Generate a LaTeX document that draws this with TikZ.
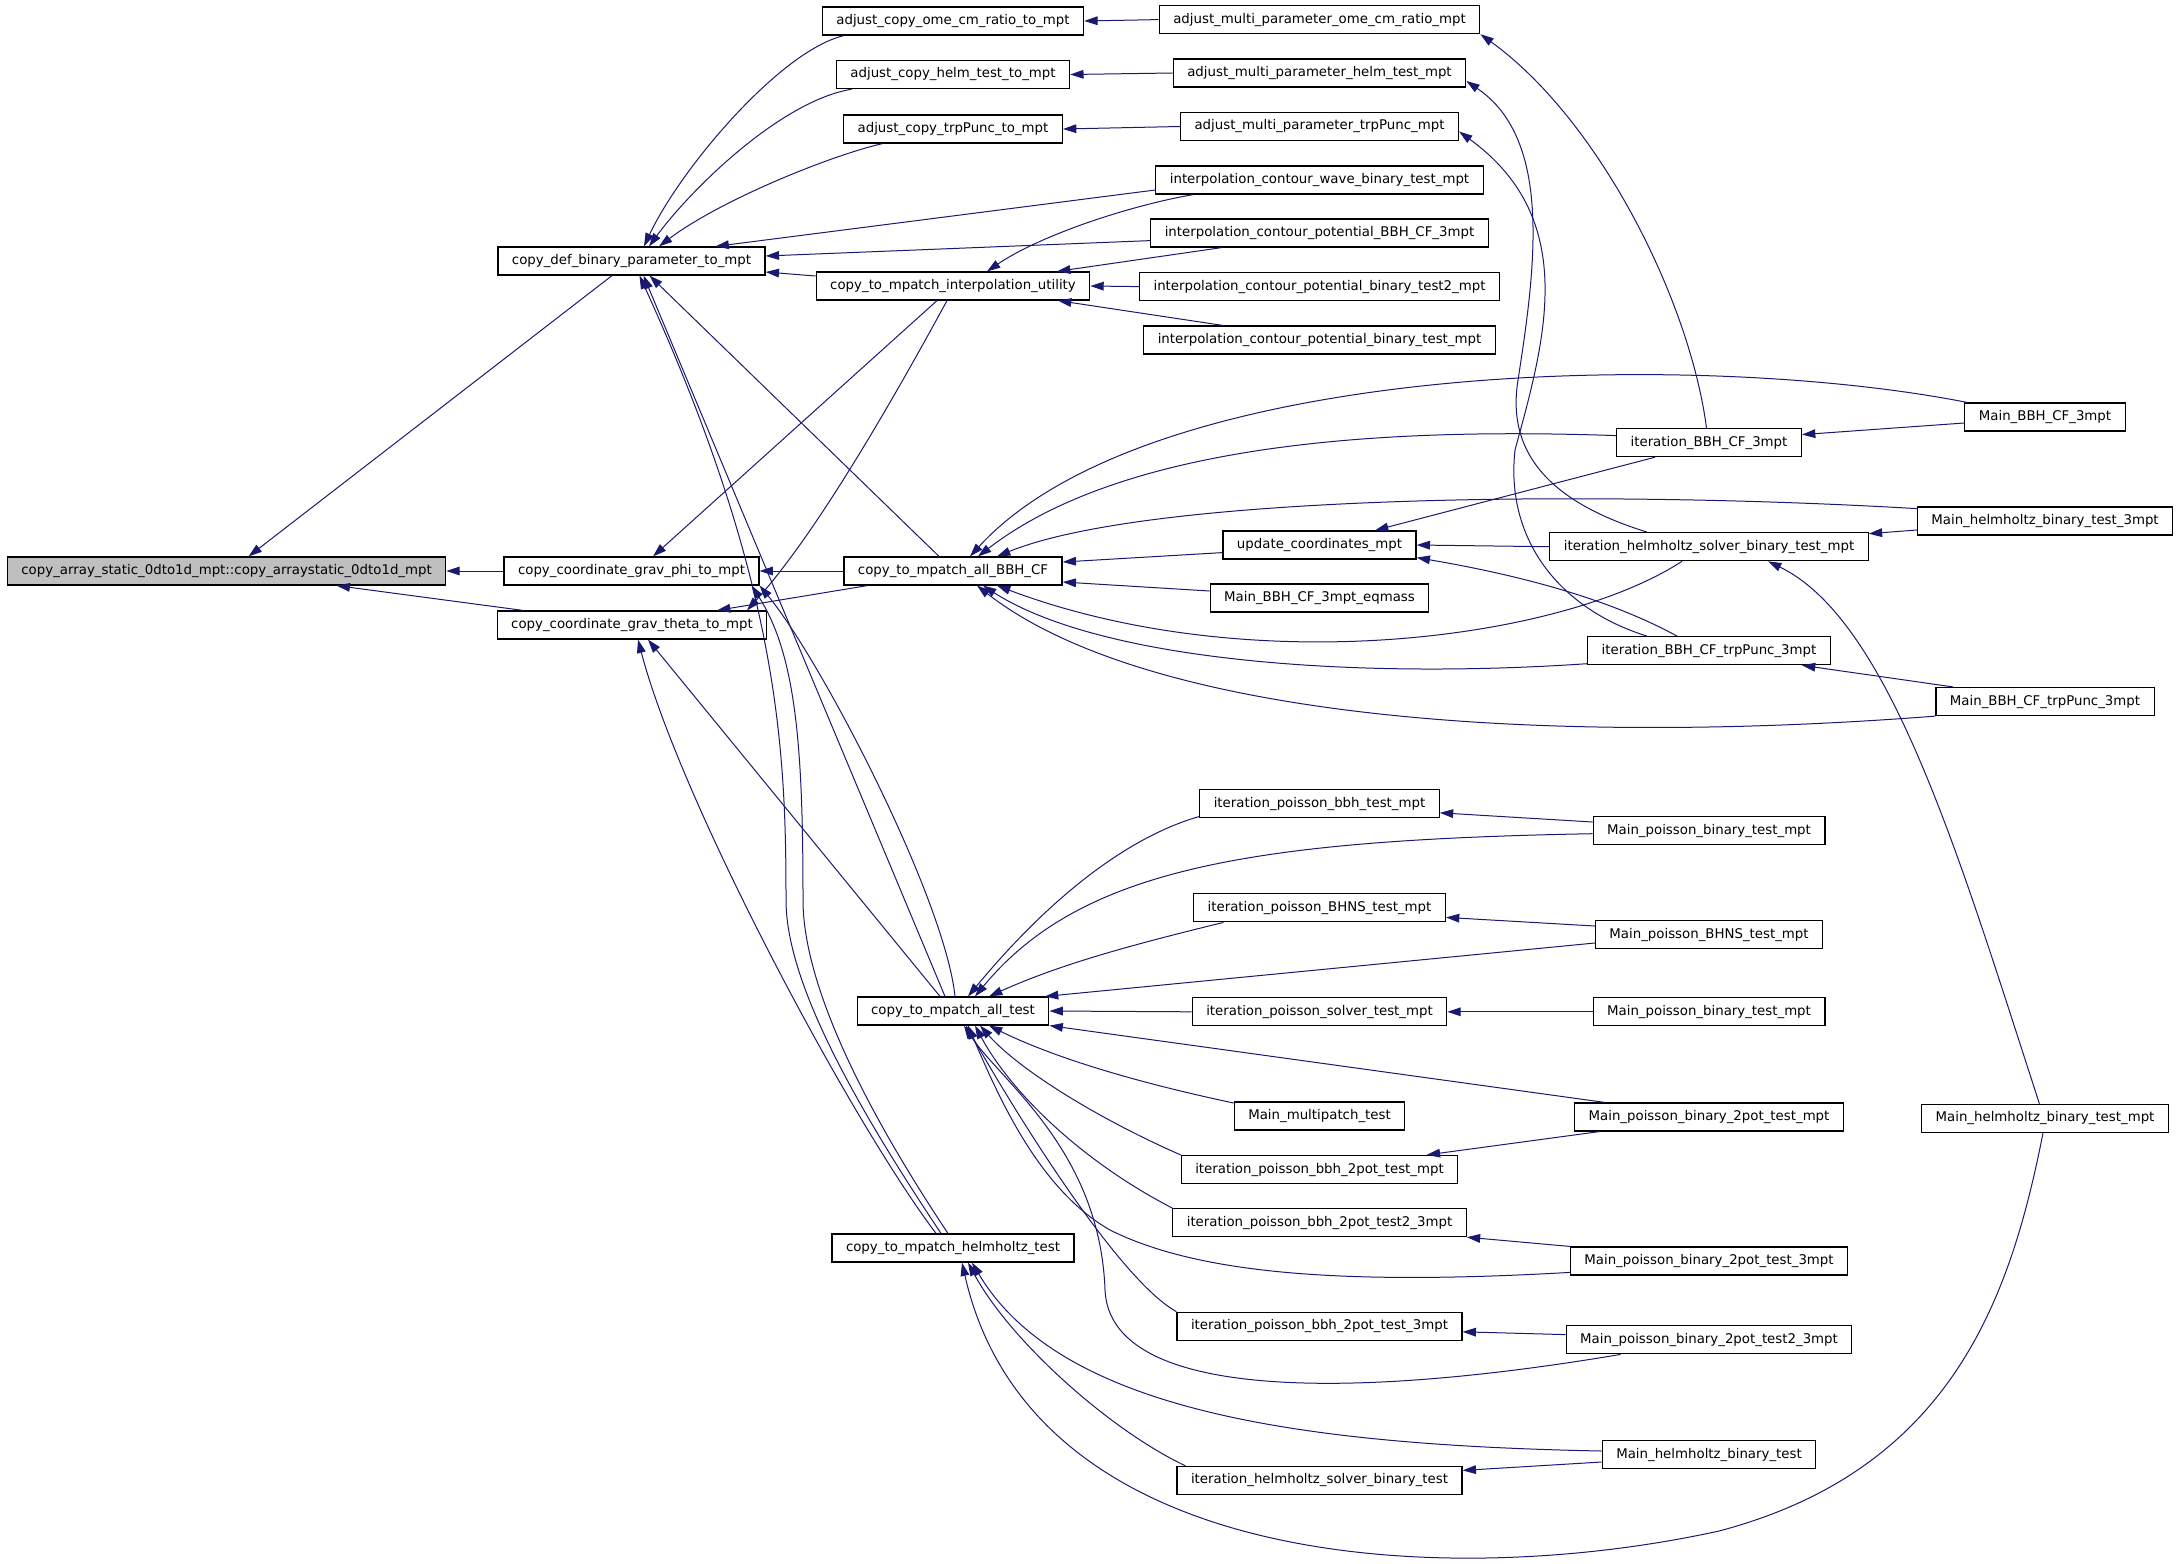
\documentclass[tikz,border=0pt]{standalone}
\usepackage{fontspec}
\setmainfont{DejaVu Sans}
\usepackage{xcolor}
\usetikzlibrary{arrows.meta,calc}
\definecolor{edgeblue}{HTML}{191970}

\begin{document}
\begin{tikzpicture}[x=0.75pt,y=-0.75pt,
 fn/.style={draw=black,line width=0.9pt,fill=white,minimum height=21pt,inner xsep=10.5pt,inner ysep=0pt,font=\fontsize{10}{12}\selectfont},
 rootfn/.style={fn,fill=black!25},
 edge/.style={edgeblue,line width=0.75pt,-{Triangle[length=10pt,width=6.5pt]}}]

\useasboundingbox (0,0) rectangle (2179,1563);
\def\ca{631.5} \def\cb{953} \def\cc{1319.5} \def\cd{1709} \def\ce{2045}

%col 0 and 1
\node[rootfn] (root) at (226.6,571) {copy\_array\_static\_0dto1d\_mpt::copy\_arraystatic\_0dto1d\_mpt};
\node[fn] (defbin) at (\ca,261) {copy\_def\_binary\_parameter\_to\_mpt};
\node[fn] (gphi) at (\ca,571) {copy\_coordinate\_grav\_phi\_to\_mpt};
\node[fn] (gtheta) at (632,625) {copy\_coordinate\_grav\_theta\_to\_mpt};

%col 2
\node[fn] (adjome) at (\cb,21) {adjust\_copy\_ome\_cm\_ratio\_to\_mpt};
\node[fn] (adjhelm) at (\cb,74.5) {adjust\_copy\_helm\_test\_to\_mpt};
\node[fn] (adjtrp) at (\cb,129) {adjust\_copy\_trpPunc\_to\_mpt};
\node[fn] (interp) at (\cb,286) {copy\_to\_mpatch\_interpolation\_utility};
\node[fn] (allbbh) at (\cb,571) {copy\_to\_mpatch\_all\_BBH\_CF};
\node[fn] (alltest) at (\cb,1011) {copy\_to\_mpatch\_all\_test};
\node[fn] (helmtest) at (\cb,1248) {copy\_to\_mpatch\_helmholtz\_test};

%col 3
\node[fn] (mome) at (\cc,19.6) {adjust\_multi\_parameter\_ome\_cm\_ratio\_mpt};
\node[fn] (mhelm) at (\cc,73) {adjust\_multi\_parameter\_helm\_test\_mpt};
\node[fn] (mtrp) at (\cc,126.5) {adjust\_multi\_parameter\_trpPunc\_mpt};
\node[fn] (icwave) at (\cc,180) {interpolation\_contour\_wave\_binary\_test\_mpt};
\node[fn] (icbbh) at (\cc,233) {interpolation\_contour\_potential\_BBH\_CF\_3mpt};
\node[fn] (ictest2) at (\cc,286.6) {interpolation\_contour\_potential\_binary\_test2\_mpt};
\node[fn] (ictest) at (\cc,340) {interpolation\_contour\_potential\_binary\_test\_mpt};
\node[fn] (upd) at (\cc,545) {update\_coordinates\_mpt};
\node[fn] (eqmass) at (\cc,598) {Main\_BBH\_CF\_3mpt\_eqmass};
\node[fn] (ipbbh) at (\cc,803.5) {iteration\_poisson\_bbh\_test\_mpt};
\node[fn] (ipbhns) at (\cc,907.8) {iteration\_poisson\_BHNS\_test\_mpt};
\node[fn] (ipsolver) at (\cc,1011.8) {iteration\_poisson\_solver\_test\_mpt};
\node[fn] (mmulti) at (\cc,1116) {Main\_multipatch\_test};
\node[fn] (ip2pot) at (\cc,1169.5) {iteration\_poisson\_bbh\_2pot\_test\_mpt};
\node[fn] (ip2pot23) at (\cc,1222.6) {iteration\_poisson\_bbh\_2pot\_test2\_3mpt};
\node[fn] (ip2pot3) at (\cc,1326.3) {iteration\_poisson\_bbh\_2pot\_test\_3mpt};
\node[fn] (ihelm) at (\cc,1480.4) {iteration\_helmholtz\_solver\_binary\_test};

%col 4
\node[fn] (ibbh) at (\cd,442.6) {iteration\_BBH\_CF\_3mpt};
\node[fn] (ihelmmpt) at (\cd,546.7) {iteration\_helmholtz\_solver\_binary\_test\_mpt};
\node[fn] (itrp) at (\cd,650.7) {iteration\_BBH\_CF\_trpPunc\_3mpt};
\node[fn] (mpbin) at (\cd,830.7) {Main\_poisson\_binary\_test\_mpt};
\node[fn] (mpbhns) at (\cd,934.7) {Main\_poisson\_BHNS\_test\_mpt};
\node[fn] (mpbinb) at (\cd,1011.8) {Main\_poisson\_binary\_test\_mpt};
\node[fn] (mp2pot) at (\cd,1116.9) {Main\_poisson\_binary\_2pot\_test\_mpt};
\node[fn] (mp2pot3) at (\cd,1261) {Main\_poisson\_binary\_2pot\_test\_3mpt};
\node[fn] (mp2pot23) at (\cd,1339.8) {Main\_poisson\_binary\_2pot\_test2\_3mpt};
\node[fn] (mhelmb) at (\cd,1454.5) {Main\_helmholtz\_binary\_test};

%col 5
\node[fn] (mbbh) at (\ce,417) {Main\_BBH\_CF\_3mpt};
\node[fn] (mhelm3) at (\ce,521) {Main\_helmholtz\_binary\_test\_3mpt};
\node[fn] (mtrpp) at (\ce,701.5) {Main\_BBH\_CF\_trpPunc\_3mpt};
\node[fn] (mhelmmpt) at (\ce,1118.3) {Main\_helmholtz\_binary\_test\_mpt};

%to root
\draw[edge] ($(defbin.south)+(-19.5,0)$) -- ($(root.north)+(22,0)$);
\draw[edge] (gphi.west) -- (root.east);
\draw[edge] ($(gtheta.north)+(-109,0)$) -- ($(root.south)+(110,0)$);

%to defbin
\draw[edge] ($(adjome.south)+(-109,0)$) .. controls +(-64,15) and +(36,-77) .. ($(defbin.north)+(12.5,0)$);
\draw[edge] ($(adjhelm.south)+(-101,0)$) .. controls +(-72,12) and +(41,-56) .. ($(defbin.north)+(17.5,0)$);
\draw[edge] ($(adjtrp.south)+(-70.5,0)$) .. controls +(-52.5,12) and +(61,-46) .. ($(defbin.north)+(27.5,0)$);
\draw[edge] ($(icwave.west)+(0,10)$) -- ($(defbin.north)+(84,0)$);
\draw[edge] ($(icbbh.west)+(0,7.6)$) -- ($(defbin.east)+(0,-5)$);
\draw[edge] ($(interp.west)+(0,-10)$) -- ($(defbin.east)+(0,11)$);
\draw[edge] ($(allbbh.north)+(-14,0)$) -- ($(defbin.south)+(18,0)$);
\draw[edge] ($(alltest.north)+(-8,0)$) -- ($(defbin.south)+(12,0)$);
\draw[edge] ($(helmtest.north)+(-12,0)$) .. controls +(-90,-135) and +(0,80) .. (786,900)
  .. controls +(0,-150) and +(140,307) .. ($(defbin.south)+(8,0)$);

%to gphi
\draw[edge] (allbbh.west) -- (gphi.east);
\draw[edge] ($(interp.south)+(-16,0)$) -- ($(gphi.north)+(21.5,0)$);
\draw[edge] ($(alltest.north)+(2,0)$) .. controls +(-10,-97) and +(62,75) .. (gphi.south east);
\draw[edge] ($(helmtest.north)+(-5,0)$) .. controls +(-90,-135) and +(0,80) .. (803,900)
  .. controls +(0,-150) and +(45,70) .. ($(gphi.south east)+(-8,0)$);

%to gtheta
\draw[edge] ($(interp.south)+(-6,0)$) .. controls +(-99,182) and +(45,-50) .. ($(gtheta.north)+(115,0)$);
\draw[edge] ($(allbbh.south west)+(24,0)$) -- ($(gtheta.north)+(85,0)$);
\draw[edge] ($(alltest.north)+(-13,0)$) -- ($(gtheta.south)+(16,0)$);
\draw[edge] ($(helmtest.north)+(-17,0)$) .. controls +(-86,-114) and +(42,161) .. ($(gtheta.south)+(6,0)$);

%col 3 to col 2
\draw[edge] (mome.west) -- (adjome.east);
\draw[edge] (mhelm.west) -- (adjhelm.east);
\draw[edge] (mtrp.west) -- (adjtrp.east);
\draw[edge] (ictest2.west) -- (interp.east);
\draw[edge] ($(icwave.south west)+(38,0)$) .. controls +(-64,11) and +(53,-36) .. ($(interp.north)+(34,0)$);
\draw[edge] ($(icbbh.south west)+(71.5,0)$) -- ($(interp.north)+(104,0)$);
\draw[edge] ($(ictest.north west)+(79.5,0)$) -- ($(interp.south)+(105,0)$);

%col 4 to col 3 top
\draw[edge] ($(ibbh.north)+(-2.5,0)$) .. controls +(-17,-129) and +(118,85) .. (mome.south east);
\draw[edge] ($(ihelmmpt.north)+(-62,0)$) .. controls +(-87,-27) and +(-13,80) .. (1518,380)
  .. controls +(17,-110) and +(87,59) .. ($(mhelm.east)+(0,8)$);
\draw[edge] ($(itrp.north)+(-62,0)$) .. controls +(-87,-27) and +(-10,90) .. (1515,450)
  .. controls +(30,-110) and +(121,88) .. ($(mtrp.east)+(0,5)$);

%col 5 to col 4
\draw[edge] ($(mbbh.west)+(0,6)$) -- ($(ibbh.east)+(0,-8)$);
\draw[edge] ($(mhelm3.west)+(0,9)$) -- ($(ihelmmpt.east)+(0,-13)$);
\draw[edge] ($(mtrpp.north west)+(17.5,0)$) -- ($(itrp.south east)+(-29,0)$);
\draw[edge] ($(mhelmmpt.north)+(-5.6,0)$) .. controls +(-79.4,-244) and +(122.4,59.3) .. ($(ihelmmpt.south)+(59,0)$);

%to upd
\draw[edge] ($(ibbh.south west)+(39,0)$) -- ($(upd.north)+(55.5,0)$);
\draw[edge] (ihelmmpt.west) -- (upd.east);
\draw[edge] ($(itrp.north west)+(90,0)$) .. controls +(-77,-42) and +(85.5,14.6) .. ($(upd.south east)+(0,-2)$);

%to allbbh
\draw[edge] ($(upd.west)+(0,7.6)$) -- ($(allbbh.east)+(0,-9)$);
\draw[edge] ($(eqmass.west)+(0,-7)$) -- ($(allbbh.east)+(0,11)$);
\draw[edge] ($(mbbh.north west)+(2.7,0)$) .. controls +(-268.5,-53) and +(180,-197) .. ($(allbbh.north)+(17,0)$);
\draw[edge] ($(ibbh.west)+(0,-7)$) .. controls +(-217,-7.6) and +(152,-117) .. ($(allbbh.north)+(25,0)$);
\draw[edge] ($(mhelm3.west)+(0,-12.4)$) .. controls +(-317.6,-18.6) and +(153,-62) .. ($(allbbh.north)+(44,0)$);
\draw[edge] ($(ihelmmpt.south)+(-27,0)$) .. controls +(-121.6,79.3) and +(253,95) .. ($(allbbh.south)+(44,0)$);
\draw[edge] ($(itrp.west)+(0,13)$) .. controls +(-236.6,16) and +(117,75) .. ($(allbbh.south)+(30,0)$);
\draw[edge] (mtrpp.south west) .. controls +(-386,30) and +(173,135) .. ($(allbbh.south)+(24,0)$);

%col 4 to col 3 bottom
\draw[edge] ($(mpbin.west)+(0,-8.7)$) -- ($(ipbbh.east)+(0,9.3)$);
\draw[edge] ($(mpbhns.west)+(0,-8.7)$) -- ($(ipbhns.east)+(0,9.6)$);
\draw[edge] (mpbinb.west) -- (ipsolver.east);
\draw[edge] ($(mp2pot.south west)+(26,0)$) -- ($(ip2pot.north east)+(-31.6,0)$);
\draw[edge] (mp2pot3.north west) -- (ip2pot23.south east);
\draw[edge] ($(mp2pot23.west)+(0,-5.2)$) -- ($(ip2pot3.east)+(0,5.5)$);
\draw[edge] ($(mhelmb.west)+(0,7.5)$) -- ($(ihelm.east)+(0,-10)$);

%to alltest
\draw[edge] ($(ipbbh.west)+(0,13)$) .. controls +(-80.5,23.3) and +(72,-87) .. ($(alltest.north)+(15,0)$);
\draw[edge] ($(mpbin.west)+(0,3)$) .. controls +(-344.8,6.3) and +(105,-127) .. ($(alltest.north)+(22,0)$);
\draw[edge] ($(ipbhns.south west)+(30.4,0)$) .. controls +(-94,23) and +(71,-32) .. ($(alltest.north)+(36,0)$);
\draw[edge] ($(mpbhns.west)+(0,8.3)$) -- ($(alltest.north east)+(-4.5,0)$);
\draw[edge] (ipsolver.west) -- (alltest.east);
\draw[edge] ($(mp2pot.north west)+(30,0)$) -- (alltest.south east);
\draw[edge] ($(mmulti.west)+(0,-13)$) .. controls +(-85,-18) and +(71,35) .. ($(alltest.south)+(36,0)$);
\draw[edge] (ip2pot.north west) .. controls +(-81,-35.5) and +(40,45) .. ($(alltest.south)+(27,0)$);
\draw[edge] (ip2pot23.north west) .. controls +(-93.6,-48.6) and +(35,65) .. ($(alltest.south)+(22,0)$);
\draw[edge] ($(mp2pot3.west)+(0,11.4)$) .. controls +(-221.4,12.6) and +(90,45) .. (1110,1230)
  .. controls +(-70,-40) and +(32,75) .. ($(alltest.south)+(15,0)$);
\draw[edge] (ip2pot3.north west) .. controls +(-57,-32) and +(54,95) .. ($(alltest.south)+(13,0)$);
\draw[edge] ($(mp2pot23.south west)+(55,0)$) .. controls +(-273,46) and +(5,110) .. (1105,1290)
  .. controls +(-5,-140) and +(36,55) .. ($(alltest.south)+(11,0)$);

%to helmtest
\draw[edge] ($(mhelmb.west)+(0,-3.5)$) .. controls +(-303.8,-6) and +(88,148) .. ($(helmtest.south)+(19,0)$);
\draw[edge] ($(ihelm.north west)+(9,0)$) .. controls +(-76,-36) and +(42,78) .. ($(helmtest.south)+(15,0)$);
\draw[edge] ($(mhelmmpt.south)+(-2,0)$) .. controls +(-33,168) and +(231,-61) .. (1719,1531)
  .. controls +(-269,59) and +(70,310) .. ($(helmtest.south)+(9,0)$);

\end{tikzpicture}
\end{document}
